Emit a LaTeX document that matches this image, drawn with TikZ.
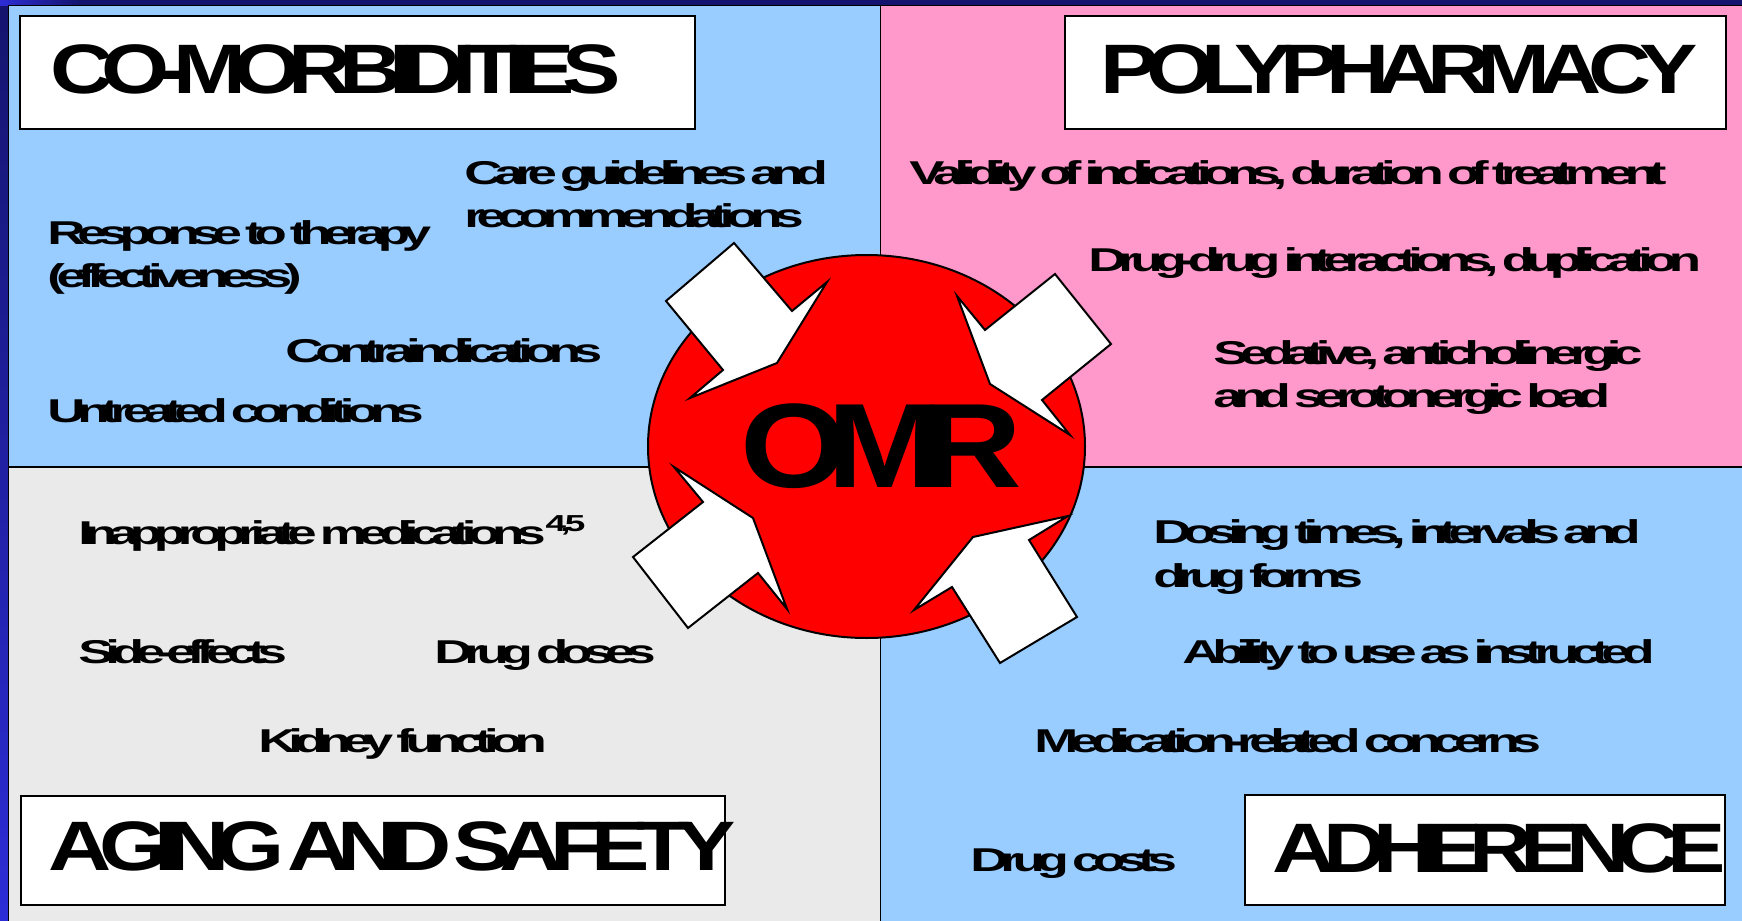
\documentclass[tikz,border=0pt]{standalone}
\usepackage{fontspec}
\usetikzlibrary{shapes.geometric}

\newfontfamily\slidefont[FakeStretch=1.6,LetterSpace=-25,WordSpace=0.5]{Liberation Sans}
\newfontfamily\headfont[FakeStretch=1.25,LetterSpace=-18,WordSpace=0.2]{Liberation Sans}
\newfontfamily\omrfont[FakeStretch=1.15,LetterSpace=-17]{Liberation Sans}

\definecolor{navy}{RGB}{20,20,110}
\definecolor{slideblue}{RGB}{45,45,215}
\definecolor{skyblue}{RGB}{153,204,255}
\definecolor{rosepink}{RGB}{255,153,204}
\definecolor{panelgray}{RGB}{234,234,234}

\tikzset{
  panel/.style={draw=black, line width=0.8pt},
  titlebox/.style={draw=black, fill=white, line width=1pt},
  item/.style={anchor=base west, inner sep=0pt, font=\slidefont\bfseries\fontsize{16.5}{20}\selectfont},
  heading/.style={anchor=base west, inner sep=0pt, font=\headfont\bfseries\fontsize{35}{40}\selectfont},
  inarrow/.style={draw=black, fill=white, line width=1pt, line join=miter},
}

\begin{document}
\begin{tikzpicture}[x=0.5pt,y=-0.5pt]
  \useasboundingbox (0,0) rectangle (1742,921);
  \clip (0,0) rectangle (1742,921);

  % slide background
  \fill[navy] (0,0) rectangle (1742,921);
  \shade[top color=navy, bottom color=slideblue] (0,0) rectangle (8,921);
  \shade[left color=slideblue, right color=navy] (0,0) rectangle (80,5);

  % four panels
  \fill[skyblue] (8,5) rectangle (880.5,467);
  \fill[rosepink] (880.5,5) rectangle (1742,467);
  \fill[panelgray] (8,467) rectangle (880.5,921);
  \fill[skyblue] (880.5,467) rectangle (1742,921);
  \draw[panel] (8.5,921) -- (8.5,5.5) -- (1742,5.5);
  \draw[panel] (8.5,467) -- (1742,467);
  \draw[panel] (880.5,5.5) -- (880.5,921);

  % headings
  \draw[titlebox] (20,16) rectangle (695,129);
  \node[heading] (comorb) at (50,93) {CO-MORBIDITIES};
  \draw[titlebox] (1065,16) rectangle (1726,129);
  \node[heading] (poly) at (1100,93) {POLYPHARMACY};
  \draw[titlebox] (21,796) rectangle (725,905);
  \node[heading] (aging) at (48,870) {AGING AND SAFETY};
  \draw[titlebox] (1245,795) rectangle (1725,905);
  \node[heading] (adher) at (1272,872) {ADHERENCE};

  % co-morbidities
  \node[item] (guide) at (464,184) {Care guidelines and};
  \node[item] (recomm) at (464,227) {recommendations};
  \node[item] (resp) at (47,244) {Response to therapy};
  \node[item] (effect) at (47,287) {(effectiveness)};
  \node[item] (contra) at (285,362) {Contraindications};
  \node[item] (untreat) at (47,422) {Untreated conditions};

  % polypharmacy
  \node[item] (valid) at (909,184) {Validity of indications, duration of treatment};
  \node[item] (ddi) at (1088,271) {Drug-drug interactions, duplication};
  \node[item] (sedat) at (1213,364) {Sedative, anticholinergic};
  \node[item] (load) at (1213,407) {and serotonergic load};

  % aging and safety
  \node[item] (inappr) at (78,544) {Inappropriate medications\textsuperscript{4,5}};
  \node[item] (side) at (78,663) {Side-effects};
  \node[item] (doses) at (434,663) {Drug doses};
  \node[item] (kidney) at (258,752) {Kidney function};

  % adherence
  \node[item] (dosing) at (1153,543) {Dosing times, intervals and};
  \node[item] (forms) at (1153,587) {drug forms};
  \node[item] (abil) at (1182,663) {Ability to use as instructed};
  \node[item] (concern) at (1034,752) {Medication-related concerns};
  \node[item] (costs) at (970,871) {Drug costs};

  % centre disc
  \draw[fill=red, line width=1pt] (866.5,446.5) ellipse [x radius=218.5, y radius=191.5];

  % arrows pointing into the disc
  \draw[inarrow] (666,301) -- (734,243) -- (792,311) -- (827,282) -- (777,363)
    -- (690,398) -- (723,370) -- cycle;
  \draw[inarrow] (957,296) -- (985,330) -- (1055,274) -- (1111,344) -- (1042,400)
    -- (1070,435) -- (990,384) -- cycle;
  \draw[inarrow] (674,467) -- (753,518) -- (787,609) -- (758,573) -- (688,628)
    -- (633,557) -- (703,502) -- cycle;
  \draw[inarrow] (1068,516) -- (1029,540) -- (1077,617) -- (1000,663) -- (952,587)
    -- (914,610) -- (973,537) -- cycle;

  \node[anchor=base west, inner sep=0pt, font=\omrfont\bfseries\fontsize{60}{66}\selectfont] (omr) at (740,487) {OMR};
\end{tikzpicture}
\end{document}
